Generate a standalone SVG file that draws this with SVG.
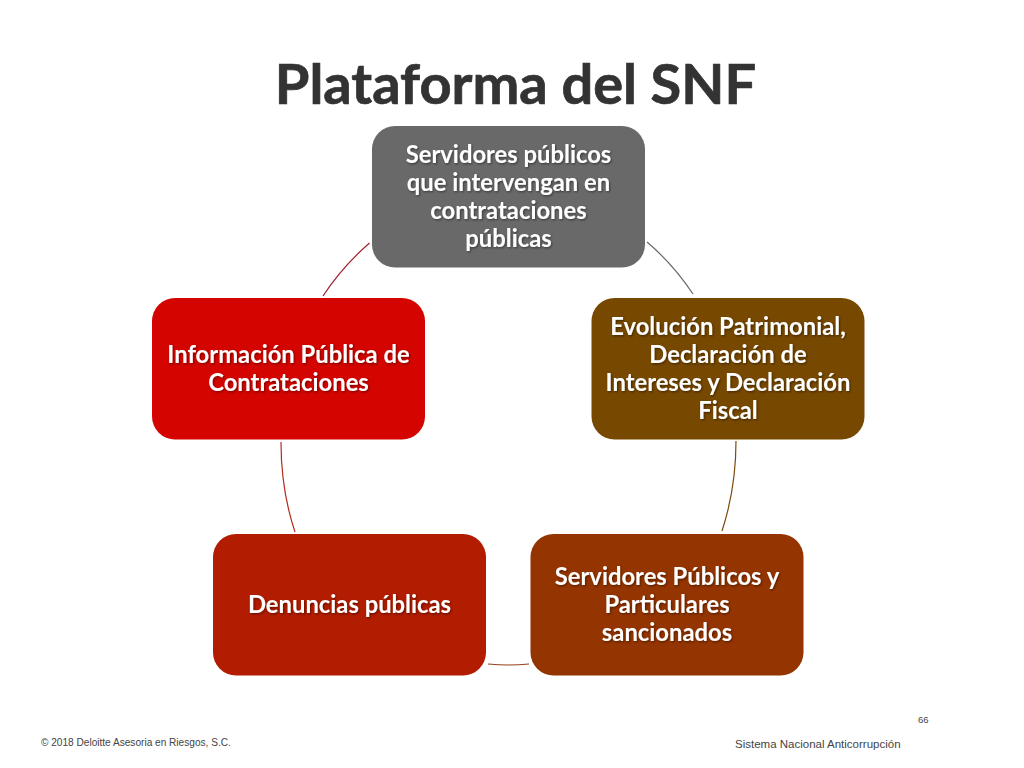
<svg xmlns="http://www.w3.org/2000/svg" width="1024" height="768" viewBox="0 0 1024 768">
<defs>
<filter id="ts" x="-10%" y="-20%" width="120%" height="150%"><feDropShadow dx="1" dy="1.2" stdDeviation="0.8" flood-color="#000" flood-opacity="0.45"/></filter>
</defs>
<style>
.node text{font-family:Lato,"Liberation Sans",sans-serif;font-weight:700;font-size:23.800px;fill:#fff;text-anchor:middle;filter:url(#ts)}
.title{font-family:Lato,"Liberation Sans",sans-serif;font-weight:700;font-size:56px;fill:#333333;stroke:#333333;stroke-width:0.7}
.foot{font-family:"Liberation Sans",Arial,sans-serif;fill:#444444}
.c{fill:none;stroke-width:1.2}
</style>
<rect width="1024" height="768" fill="#ffffff"/>
<text class="title" x="515.500" y="104" text-anchor="middle">Plataforma del SNF</text>
<g id="connectors">
<path class="c" stroke="#a11f2d" d="M369.500 243 Q342 267 323 296"/>
<path class="c" stroke="#666666" d="M647 242 Q673 264 693 294"/>
<path class="c" stroke="#7a4a10" d="M736 441 Q736 488 722 531"/>
<path class="c" stroke="#96401c" d="M529 664 Q509 666 488 664"/>
<path class="c" stroke="#b02d1a" d="M295 532 Q281 490 281 442"/>
</g>
<g id="node-servidores" class="node">
<rect x="372" y="126" width="273" height="141.500" rx="23" fill="#696969"/>
<text x="508.500" y="163">Servidores públicos</text>
<text x="508.500" y="191">que intervengan en</text>
<text x="508.500" y="219">contrataciones</text>
<text x="508.500" y="247">públicas</text>
</g>
<g id="node-evolucion" class="node">
<rect x="591.500" y="298" width="273" height="141.500" rx="23" fill="#774800"/>
<text x="728" y="335">Evolución Patrimonial,</text>
<text x="728" y="363">Declaración de</text>
<text x="728" y="391">Intereses y Declaración</text>
<text x="728" y="419">Fiscal</text>
</g>
<g id="node-sancionados" class="node">
<rect x="530.500" y="534" width="273" height="141.500" rx="23" fill="#943400"/>
<text x="667" y="585">Servidores Públicos y</text>
<text x="667" y="613">Particulares</text>
<text x="667" y="641">sancionados</text>
</g>
<g id="node-denuncias" class="node">
<rect x="213" y="534" width="273" height="141.500" rx="23" fill="#b21c00"/>
<text x="349.500" y="613">Denuncias públicas</text>
</g>
<g id="node-informacion" class="node">
<rect x="152" y="298" width="273" height="141.500" rx="23" fill="#d40400"/>
<text x="288.500" y="363">Información Pública de</text>
<text x="288.500" y="391">Contrataciones</text>
</g>
<text class="foot" x="41" y="746" font-size="10.100">© 2018 Deloitte Asesoria en Riesgos, S.C.</text>
<text class="foot" x="735" y="748" font-size="11.500">Sistema Nacional Anticorrupción</text>
<text class="foot" x="918" y="723" font-size="9.500">66</text>
</svg>
